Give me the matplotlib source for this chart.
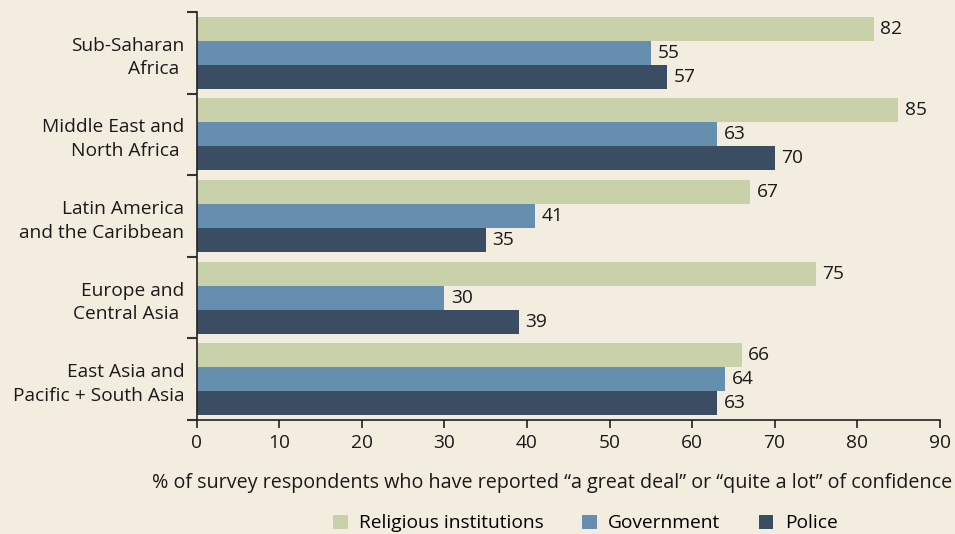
import matplotlib
matplotlib.use("Agg")
import matplotlib.pyplot as plt
import numpy as np
from matplotlib.patches import Patch

plt.rcParams['font.family'] = ['Open Sans', 'DejaVu Sans']

regions = ["Sub-Saharan\nAfrica ", "Middle East and\nNorth Africa ", "Latin America\nand the Caribbean",
           "Europe and\nCentral Asia ", "East Asia and\nPacific + South Asia"]
religious = [82, 85, 67, 75, 66]
government = [55, 63, 41, 30, 64]
police = [57, 70, 35, 39, 63]
series_names = ["Religious institutions", "Government", "Police"]
colors = ["#c9d1aa", "#668eae", "#3a4d63"]
bg = "#f3ede0"
fs = 13.8

fig = plt.figure(figsize=(9.55, 5.34), dpi=100, facecolor=bg)
ax = fig.add_axes([0.206, 0.2135, 0.778, 0.764], facecolor=bg)

n = len(regions)
centers = np.arange(n)
h = 0.294
series = [religious, government, police]
for i, (vals, c) in enumerate(zip(series, colors)):
    y = centers + (i - 1) * h
    ax.barh(y, vals, height=h, color=c, edgecolor='none')
    for yy, v in zip(y, vals):
        ax.text(v + 0.8, yy, str(v), va='center', ha='left', fontsize=fs, color='#1a1a1a')

ax.set_ylim(n - 0.5, -0.5)
ax.set_xlim(0, 90)
ax.set_xticks(np.arange(0, 91, 10))
ax.set_yticks(centers)
ax.set_yticklabels(regions, fontsize=fs, ha='right', linespacing=1.4, color='#1a1a1a')
ax.set_yticks(np.arange(-0.5, n, 1), minor=True)
ax.tick_params(axis='y', which='major', length=0, pad=9)
ax.tick_params(axis='y', which='minor', length=7, width=1.5, color='#333333')
ax.tick_params(axis='x', length=6, width=1.2, color='#222222', labelsize=fs, pad=4, labelcolor='#1a1a1a')
for s in ['top', 'right']:
    ax.spines[s].set_visible(False)
for s in ['left', 'bottom']:
    ax.spines[s].set_color('#222222')
    ax.spines[s].set_linewidth(1.2)

ax.set_xlabel("% of survey respondents who have reported \u201ca great deal\u201d or \u201cquite a lot\u201d of confidence",
              fontsize=14.2, color='#1a1a1a')
ax.xaxis.set_label_coords(0.478, -0.13)

handles = [Patch(facecolor=c, edgecolor='none') for c in colors]
fig.legend(handles, series_names, loc='center', bbox_to_anchor=(0.613, 0.02), ncol=3, frameon=False,
           fontsize=fs, handlelength=0.75, handleheight=0.75, handletextpad=0.6, columnspacing=2.0)

fig.savefig("out.png", dpi=100, facecolor=bg)
